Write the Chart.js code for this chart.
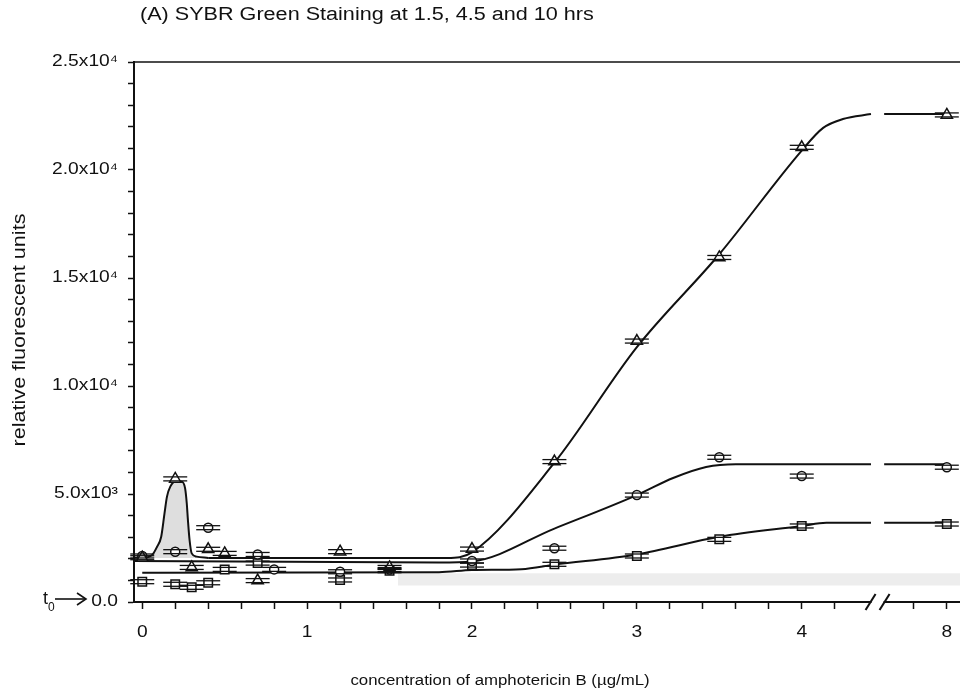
<!DOCTYPE html>
<html>
<head>
<meta charset="utf-8">
<script src="https://cdn.jsdelivr.net/npm/chart.js@4.4.1/dist/chart.umd.min.js"></script>
<style>
  html, body { margin: 0; padding: 0; background: #fff; }
  canvas { display: block; }
</style>
</head>
<body>
<canvas id="sybrChart" width="960" height="694"></canvas>
<script>
  // Texts
  const chartTitle = "(A) SYBR Green Staining at 1.5, 4.5 and 10 hrs";
  const xTitle = "concentration of amphotericin B (\u00b5g/mL)";
  const yTitle = "relative fluorescent units";

  // Tick labels
  const xLabelConc = [0, 1, 2, 3, 4, 8];
  const xMinorConc = [0, 0.2, 0.4, 0.6, 0.8, 1, 1.2, 1.4, 1.6, 1.8, 2, 2.2, 2.4, 2.6, 2.8,
                      3, 3.2, 3.4, 3.6, 3.8, 4, 4.2, 7.8, 8];
  const yLabelVals = [0, 5000, 10000, 15000, 20000, 25000];
  const yLabels = ["0.0", "5.0x10\u00b3", "1.0x10\u2074", "1.5x10\u2074", "2.0x10\u2074", "2.5x10\u2074"];

  // 10 hrs (triangles)
  const triConc = [0, 0.2, 0.3, 0.4, 0.5, 0.7, 1.2, 1.5, 2, 2.5, 3, 3.5, 4, 8];
  const triVals = [2050, 5700, 1600, 2440, 2250, 990, 2330, 1600, 2450, 6500, 12080, 15950, 21050, 22550];

  // 4.5 hrs (circles)
  const circConc = [0, 0.2, 0.4, 0.7, 0.8, 1.2, 1.5, 2, 2.5, 3, 3.5, 4, 8];
  const circVals = [2130, 2330, 3440, 2200, 1510, 1400, 1500, 1900, 2490, 4950, 6700, 5830, 6240];

  // 1.5 hrs (squares)
  const sqConc = [0, 0.2, 0.3, 0.4, 0.5, 0.7, 1.2, 1.5, 2, 2.5, 3, 3.5, 4, 8];
  const sqVals = [940, 820, 680, 890, 1510, 1800, 1020, 1450, 1710, 1745, 2130, 2900, 3520, 3610];

  // fitted curves (null = axis break)
  const triSpikeConc = [-0.05, 0, 0.06, 0.09, 0.115, 0.135, 0.15, 0.17, 0.2, 0.24, 0.26, 0.27, 0.277, 0.287, 0.3, 0.33, 0.4];
  const triSpikeVals = [2050, 2050, 2180, 2560, 3020, 4100, 4880, 5340, 5570, 5570, 5260, 4570, 3800, 2870, 2250, 2100, 2040];
  const triFitConc = [0.4, 1.85, 2.0, 2.5, 3.0, 3.5, 4.0, 4.13, 4.25, 4.42, 4.46, 7.62, 8];
  const triFitVals = [2040, 2040, 2300, 6450, 11800, 16100, 20900, 21950, 22360, 22590, null, 22590, 22590];
  const circFitConc = [-0.05, 1.8, 2.0, 2.5, 3.0, 3.22, 3.42, 3.6, 4.42, 4.46, 7.62, 8];
  const circFitVals = [1900, 1830, 1880, 3400, 4950, 5740, 6250, 6380, 6380, null, 6380, 6380];
  const sqFitConc = [0, 1.8, 2.0, 2.3, 2.5, 3.0, 3.5, 4.0, 4.15, 4.42, 4.46, 7.62, 8];
  const sqFitVals = [1350, 1380, 1480, 1520, 1730, 2200, 3020, 3520, 3670, 3670, null, 3670, 3670];

  // t0 background band
  const bandConc = [1.55, 8.08];
  const bandLow = [760, 760];
  const bandHigh = [1330, 1330];

  const spikeBase = 2040;

  // x axis is broken between 4 and 8
  const breakFrom = 6;
  const breakShift = 3.12;
  const breakAt = 4.46;
  function toAxis(c) {
    return c >= breakFrom ? c - breakShift : c;
  }
  function pts(xs, ys) {
    return xs.map((c, i) => ({ x: toAxis(c), y: ys[i] }));
  }

  const FONT = '"Liberation Sans", Arial, Helvetica, sans-serif';
  const INK = "#111";
  const STRETCH = 1.2; // the lettering runs a little wide

  function drawText(ctx, text, x, y, size, align, sx, angle) {
    ctx.save();
    ctx.translate(x, y);
    if (angle) ctx.rotate(angle);
    ctx.scale(sx, 1);
    ctx.font = size + "px " + FONT;
    ctx.textAlign = align;
    ctx.textBaseline = "middle";
    ctx.fillStyle = INK;
    ctx.fillText(text, 0, 0);
    ctx.restore();
  }

  const markerBase = {
    showLine: false,
    borderColor: INK,
    backgroundColor: "#fff",
    pointBorderWidth: 1.5,
    pointBackgroundColor: "#fff",
    pointBorderColor: INK,
    capped: true,
  };
  const curveBase = {
    borderColor: INK,
    borderWidth: 2,
    pointRadius: 0,
    cubicInterpolationMode: "monotone",
    spanGaps: false,
    fill: false,
  };

  // error caps through each marker
  const capsPlugin = {
    id: "caps",
    afterDatasetsDraw(chart) {
      const ctx = chart.ctx;
      ctx.save();
      ctx.strokeStyle = INK;
      ctx.lineWidth = 1.3;
      chart.data.datasets.forEach((ds, i) => {
        if (!ds.capped) return;
        chart.getDatasetMeta(i).data.forEach((pt) => {
          [-2, 2].forEach((dy) => {
            ctx.beginPath();
            ctx.moveTo(pt.x - 12, pt.y + dy);
            ctx.lineTo(pt.x + 12, pt.y + dy);
            ctx.stroke();
          });
        });
      });
      ctx.restore();
    },
  };

  // frame top, axis break, labels, titles, t0 marker
  const decorPlugin = {
    id: "decor",
    afterDraw(chart) {
      const { ctx, chartArea } = chart;
      const xs = chart.scales.x;
      const ys = chart.scales.y;
      ctx.save();

      ctx.strokeStyle = INK;
      ctx.lineWidth = 1.5;
      ctx.beginPath();
      ctx.moveTo(chartArea.left, chartArea.top);
      ctx.lineTo(chartArea.right, chartArea.top);
      ctx.stroke();

      const bx = xs.getPixelForValue(breakAt);
      const by = chartArea.bottom;
      ctx.fillStyle = "#fff";
      ctx.fillRect(bx - 6, by - 3, 12, 6);
      ctx.lineWidth = 2;
      [-7, 7].forEach((dx) => {
        ctx.beginPath();
        ctx.moveTo(bx + dx - 5, by + 8);
        ctx.lineTo(bx + dx + 5, by - 8);
        ctx.stroke();
      });

      // tick labels
      xLabelConc.forEach((c) => {
        drawText(ctx, String(c), xs.getPixelForValue(toAxis(c)), by + 31, 16, "center", STRETCH);
      });
      yLabelVals.forEach((v, i) => {
        drawText(ctx, yLabels[i], chartArea.left - 16, ys.getPixelForValue(v), 16, "right", STRETCH);
      });

      // titles
      drawText(ctx, chartTitle, 140, 15, 18, "left", STRETCH);
      drawText(ctx, xTitle, 500, 681, 14, "center", STRETCH);
      drawText(ctx, yTitle, 20, 330, 18, "center", STRETCH, -Math.PI / 2);

      // t0 -> arrow at zero
      const y0 = ys.getPixelForValue(0);
      drawText(ctx, "t", 43, y0 - 3, 18, "left", 1);
      drawText(ctx, "0", 48, y0 + 6, 12, "left", 1);
      ctx.strokeStyle = INK;
      ctx.lineWidth = 1.6;
      ctx.beginPath();
      ctx.moveTo(55, y0 - 3);
      ctx.lineTo(85, y0 - 3);
      ctx.stroke();
      ctx.beginPath();
      ctx.moveTo(77, y0 - 9);
      ctx.lineTo(86, y0 - 3);
      ctx.lineTo(77, y0 + 3);
      ctx.stroke();
      ctx.restore();
    },
  };

  const ctx = document.getElementById("sybrChart").getContext("2d");
  new Chart(ctx, {
    type: "line",
    data: {
      datasets: [
        { ...markerBase, label: "10 hrs", data: pts(triConc, triVals), pointStyle: "triangle", pointRadius: 6.5 },
        { ...markerBase, label: "4.5 hrs", data: pts(circConc, circVals), pointStyle: "circle", pointRadius: 4.5 },
        { ...markerBase, label: "1.5 hrs", data: pts(sqConc, sqVals), pointStyle: "rect", pointRadius: 6 },
        { ...curveBase, data: pts(triFitConc, triFitVals) },
        { ...curveBase, data: pts(circFitConc, circFitVals) },
        { ...curveBase, data: pts(sqFitConc, sqFitVals) },
        {
          ...curveBase,
          data: pts(triSpikeConc, triSpikeVals),
          fill: { target: { value: spikeBase }, above: "rgba(0,0,0,0.13)", below: "rgba(0,0,0,0)" },
        },
        {
          data: pts(bandConc, bandHigh),
          borderWidth: 0,
          pointRadius: 0,
          fill: "+1",
          backgroundColor: "rgba(0,0,0,0.07)",
        },
        { data: pts(bandConc, bandLow), borderWidth: 0, pointRadius: 0, fill: false },
      ],
    },
    options: {
      responsive: false,
      animation: false,
      layout: { autoPadding: false, padding: { top: 62, right: 0, left: 0, bottom: 0 } },
      plugins: {
        legend: { display: false },
        tooltip: { enabled: false },
        title: { display: false },
      },
      scales: {
        x: {
          type: "linear",
          min: -0.05,
          max: 4.96,
          afterBuildTicks: (axis) => {
            axis.ticks = xMinorConc.map((c) => ({ value: toAxis(c) }));
          },
          afterFit: (scale) => {
            scale.height = 92;
          },
          ticks: { display: false, autoSkip: false },
          grid: {
            display: true,
            drawOnChartArea: false,
            drawTicks: true,
            tickLength: 7,
            tickColor: INK,
            tickWidth: 1.5,
          },
          border: { display: true, color: INK, width: 2 },
        },
        y: {
          min: 0,
          max: 25000,
          afterFit: (scale) => {
            scale.width = 134;
          },
          ticks: { display: false, stepSize: 1000, autoSkip: false },
          grid: {
            display: true,
            drawOnChartArea: false,
            drawTicks: true,
            tickLength: 6,
            tickColor: INK,
            tickWidth: 1.5,
          },
          border: { display: true, color: INK, width: 2 },
        },
      },
    },
    plugins: [capsPlugin, decorPlugin],
  });
</script>
</body>
</html>
